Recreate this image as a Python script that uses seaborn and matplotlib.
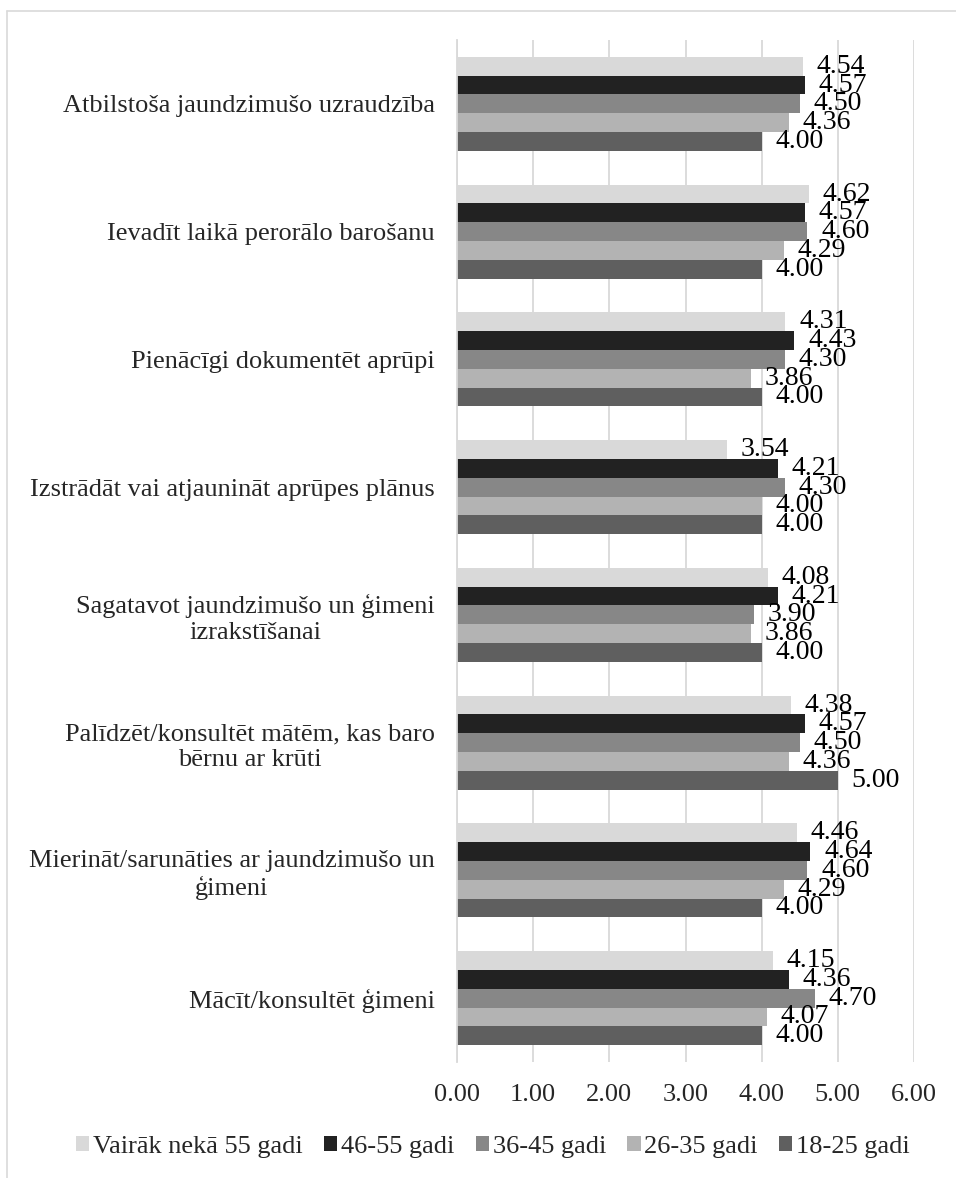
import matplotlib
matplotlib.use("Agg")
import matplotlib.pyplot as plt
import seaborn as sns
import pandas as pd
from matplotlib.lines import Line2D

categories = [
    "Atbilstoša jaundzimušo uzraudzība",
    "Ievadīt laikā perorālo barošanu",
    "Pienācīgi dokumentēt aprūpi",
    "Izstrādāt vai atjaunināt aprūpes plānus",
    "Sagatavot jaundzimušo un ģimeni\nizrakstīšanai",
    "Palīdzēt/konsultēt mātēm, kas baro\nbērnu ar krūti",
    "Mierināt/sarunāties ar jaundzimušo un\nģimeni",
    "Mācīt/konsultēt ģimeni",
]
series_names = ["Vairāk nekā 55 gadi", "46-55 gadi", "36-45 gadi", "26-35 gadi", "18-25 gadi"]
over55 = [4.54, 4.62, 4.31, 3.54, 4.08, 4.38, 4.46, 4.15]
g46_55 = [4.57, 4.57, 4.43, 4.21, 4.21, 4.57, 4.64, 4.36]
g36_45 = [4.50, 4.60, 4.30, 4.30, 3.90, 4.50, 4.60, 4.70]
g26_35 = [4.36, 4.29, 3.86, 4.00, 3.86, 4.36, 4.29, 4.07]
g18_25 = [4.00, 4.00, 4.00, 4.00, 4.00, 5.00, 4.00, 4.00]
x_ticks = [0, 1, 2, 3, 4, 5, 6]
colors = ["#d9d9d9", "#222222", "#878787", "#b3b3b3", "#5f5f5f"]

series_values = [over55, g46_55, g36_45, g26_35, g18_25]
rows = []
for name, vals in zip(series_names, series_values):
    for cat, v in zip(categories, vals):
        rows.append({"Kategorija": cat, "Grupa": name, "Vērtība": v})
df = pd.DataFrame(rows)

sns.set_style("white")
plt.rcParams["font.family"] = ["Liberation Serif", "DejaVu Serif"]
plt.rcParams["font.size"] = 19

fig = plt.figure(figsize=(9.56, 11.78), dpi=100)
ax = fig.add_axes([457 / 956, 1 - 1062 / 1178, (914 - 457) / 956, (1062 - 40) / 1178])

sns.barplot(
    data=df, y="Kategorija", x="Vērtība", hue="Grupa",
    order=categories, hue_order=series_names, palette=colors,
    orient="h", width=0.735, gap=0, linewidth=0, errorbar=None, ax=ax,
    saturation=1,
)

for cont in ax.containers:
    ax.bar_label(cont, fmt="%.2f", padding=10, fontsize=20, color="black")

ax.set_xlim(0, 6)
ax.set_xticks(x_ticks)
ax.set_xticklabels([f"{t:.2f}" for t in x_ticks])
ax.set_xlabel("")
ax.set_ylabel("")
ax.set_axisbelow(True)
ax.grid(axis="x", color="#d9d9d9", linewidth=1.3)
ax.grid(axis="y", visible=False)
for s in ["top", "right", "bottom"]:
    ax.spines[s].set_visible(False)
ax.spines["left"].set_color("#d9d9d9")
ax.spines["left"].set_linewidth(1.3)
ax.tick_params(axis="x", length=0, pad=16, labelsize=19)
ax.tick_params(axis="y", length=0, pad=16, labelsize=19)
for lbl in ax.get_yticklabels():
    lbl.set_horizontalalignment("right")
    lbl.set_multialignment("center")

ax.legend_.remove()
handles, labels = ax.get_legend_handles_labels()
fig.legend(
    handles, labels, loc="center", bbox_to_anchor=(493 / 956, 1 - 1147 / 1178),
    ncol=5, frameon=False, fontsize=19, handlelength=0.5, handleheight=0.5,
    handletextpad=0.15, columnspacing=0.8, borderaxespad=0,
)

# figure frame lines (top and left)
fig.add_artist(Line2D([7 / 956, 1.0], [1 - 11 / 1178, 1 - 11 / 1178], transform=fig.transFigure,
                      color="#d9d9d9", linewidth=1.2))
fig.add_artist(Line2D([7 / 956, 7 / 956], [0, 1 - 11 / 1178], transform=fig.transFigure,
                      color="#d9d9d9", linewidth=1.2))

fig.savefig("out.png", dpi=100)
